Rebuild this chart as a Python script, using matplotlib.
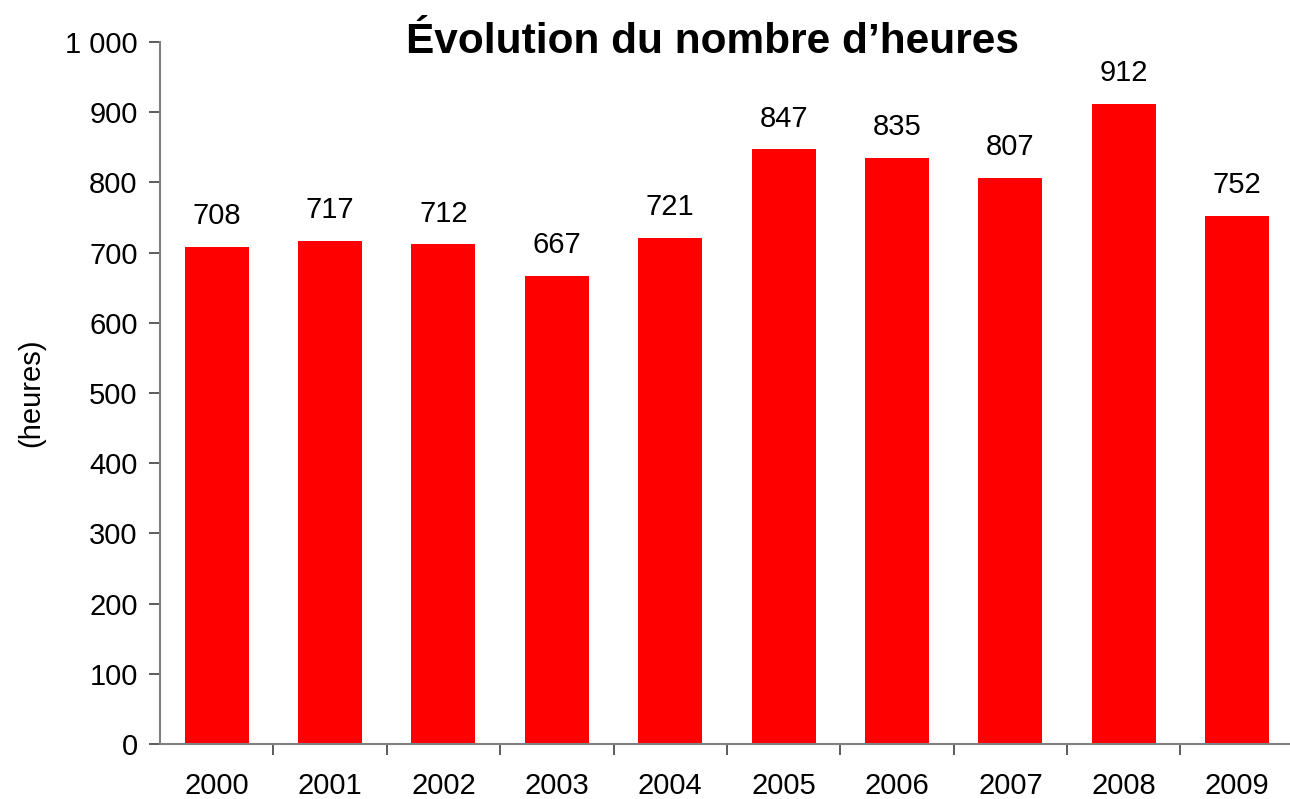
import numpy as np
import matplotlib.pyplot as plt
from matplotlib.ticker import FuncFormatter

# Données
annees = ['2000', '2001', '2002', '2003', '2004', '2005', '2006', '2007', '2008', '2009']
heures = [708, 717, 712, 667, 721, 847, 835, 807, 912, 752]

plt.rcParams['font.family'] = ['Liberation Sans', 'DejaVu Sans']

fig = plt.figure(figsize=(12.9, 7.99), dpi=100)
ax = fig.add_axes([0.124, 0.0688, 0.879, 0.8786])

x = np.arange(len(annees))
ax.bar(x, heures, width=0.565, color='#ff0000', zorder=2)

for xi, v in zip(x, heures):
    ax.annotate(str(v), (xi, v), xytext=(0, 12), textcoords='offset points',
                ha='center', va='bottom', fontsize=21)

ax.set_xlim(-0.5, len(annees) - 0.5)
ax.set_ylim(0, 1000)
ax.set_yticks(range(0, 1001, 100))
ax.yaxis.set_major_formatter(FuncFormatter(lambda v, p: f'{int(v):,}'.replace(',', ' ')))

# graduations entre les catégories, étiquettes au centre
ax.set_xticks(np.arange(0.5, len(annees) - 1, 1))
ax.set_xticklabels([])
ax.set_xticks(x, minor=True)
ax.set_xticklabels(annees, minor=True)
ax.tick_params(axis='x', which='minor', length=0, pad=20, labelsize=21)
ax.tick_params(axis='x', which='major', length=8, width=1.2, color='#404040')
ax.tick_params(axis='y', length=8, width=1.2, color='#404040', labelsize=21, pad=8)

for s in ['top', 'right']:
    ax.spines[s].set_visible(False)
for s in ['left', 'bottom']:
    ax.spines[s].set_color('#808080')
    ax.spines[s].set_linewidth(1.5)

ax.set_ylabel('(heures)', fontsize=21, labelpad=14)

fig.text(713 / 1290, 1 - 42 / 799, 'Évolution du nombre d\u2019heures',
         ha='center', va='center', fontsize=30.5, fontweight='bold')

fig.savefig('out.png', dpi=100)
